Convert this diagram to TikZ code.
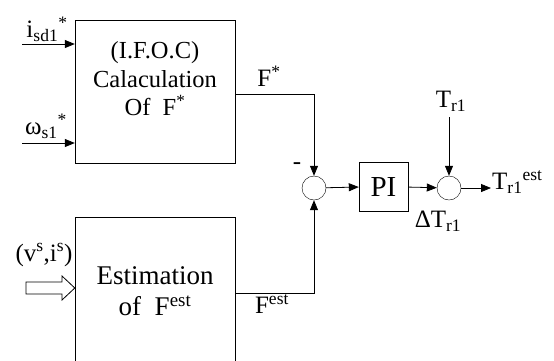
\documentclass[tikz,border=0pt]{standalone}
\usepackage{fontspec}
\setmainfont{Liberation Serif}
\usetikzlibrary{positioning,arrows.meta}

\begin{document}
\begin{tikzpicture}[
    x=1pt, y=-1pt,
    block/.style={
        draw,
        minimum width=160pt,
        inner sep=0pt,
        align=center,
        font=\fontsize{27}{31}\selectfont
    },
    sumnode/.style={draw, circle, minimum size=24pt, inner sep=0pt},
    lbl/.style={inner sep=0pt, font=\fontsize{25}{29}\selectfont},
    line/.style={-{Triangle[length=10pt,width=8pt]}, line width=0.8pt}
]
\clip (0,0) rectangle (554,360);

% blocks
\node[block, minimum height=143pt] (calc) at (155,91.5) {};
\node[lbl, align=center, font=\fontsize{24.5}{28.5}\selectfont] (calctxt) at (155,79)
    {(I.F.O.C)\\Calaculation\\Of~ F\textsuperscript{*}};
\node[block, minimum height=148pt] (est) at (155,291) {Estimation\\of~ F\textsuperscript{est}};

\node[sumnode] (sum1) at (314,188) {};
\node[draw, minimum width=49pt, minimum height=49pt, inner sep=0pt,
      font=\fontsize{29}{33}\selectfont] (pi) at (383.5,186.5) {PI};
\node[sumnode] (sum2) at (449,188) {};

% free ends
\coordinate (isd) at (22,44);
\coordinate (ws) at (22,143);
\coordinate (tr) at (449,117);
\coordinate (out) at (491,188);

% labels
\node[lbl] (isdlbl) at (47,29) {i\textsubscript{sd1}\textsuperscript{*}};
\node[lbl] (wslbl) at (46,126) {ω\textsubscript{s1}\textsuperscript{*}};
\node[lbl] (fstar) at (269,76) {F\textsuperscript{*}};
\node[lbl] (fest) at (272,304) {F\textsuperscript{est}};
\node[lbl] (minus) at (297,166) {-};
\node[lbl] (trlbl) at (451,101) {T\textsubscript{r1}};
\node[lbl] (dtr) at (438,221) {ΔT\textsubscript{r1}};
\node[lbl, anchor=west] (trest) at (492,182) {T\textsubscript{r1}\textsuperscript{est}};
\node[lbl] (vi) at (44,255) {(v\textsuperscript{s},i\textsuperscript{s})};

% hollow input arrow
\draw[line width=0.8pt] (26,282) -- (62,282) -- (62,276) -- (est.west |- 0,288)
    -- (62,300) -- (62,294) -- (26,294) -- cycle;

% connectors
\draw[line] (isd) -- (isd -| calc.west);
\draw[line] (ws) -- (ws -| calc.west);
\draw[line] ([yshift=-2.5pt]calc.east) -| (sum1.north);
\draw[line] ([yshift=-2pt]est.east) -| (sum1.south);
\draw[line] (sum1) -- (pi);
\draw[line] (pi) -- (sum2);
\draw[line] (tr) -- (sum2);
\draw[line] (sum2) -- (out);

\end{tikzpicture}
\end{document}
